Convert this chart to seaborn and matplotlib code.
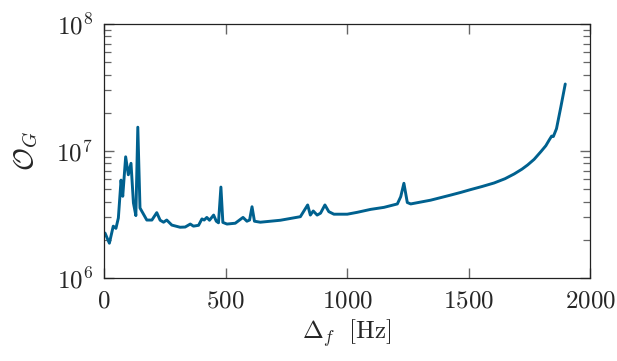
import math
import pandas as pd
import matplotlib
matplotlib.use("Agg")
import matplotlib.pyplot as plt
import matplotlib.ticker as mticker
import seaborn as sns

# values (frequency offset vs objective)
freq_hz = [4, 22, 38, 49, 59, 70, 77, 89, 100, 111, 121, 131, 139, 148, 176, 197,
           217, 231, 245, 258, 279, 313, 334, 355, 368, 389, 403, 412, 423, 434,
           451, 462, 471, 481, 489, 506, 540, 572, 588, 599, 609, 619, 643, 685,
           726, 808, 838, 849, 861, 877, 891, 909, 925, 946, 1001, 1042, 1097,
           1152, 1207, 1221, 1234, 1248, 1262, 1344, 1427, 1468, 1509, 1555, 1605,
           1650, 1688, 1720, 1743, 1770, 1798, 1818, 1833, 1842, 1849, 1862,
           1880, 1898]
objective = [2.26e6, 1.88e6, 2.56e6, 2.46e6, 2.97e6, 5.9e6, 4.4e6, 9.0e6, 6.5e6,
             8.0e6, 3.9e6, 3.1e6, 1.54e7, 3.56e6, 2.86e6, 2.86e6, 3.27e6, 2.85e6,
             2.75e6, 2.86e6, 2.61e6, 2.51e6, 2.52e6, 2.66e6, 2.56e6, 2.6e6, 2.92e6,
             2.86e6, 3.0e6, 2.85e6, 3.13e6, 2.8e6, 2.72e6, 5.2e6, 2.74e6, 2.66e6,
             2.7e6, 3.0e6, 2.8e6, 2.86e6, 3.64e6, 2.8e6, 2.75e6, 2.8e6, 2.85e6,
             3.04e6, 3.76e6, 3.13e6, 3.37e6, 3.13e6, 3.24e6, 3.76e6, 3.33e6,
             3.18e6, 3.18e6, 3.29e6, 3.47e6, 3.6e6, 3.83e6, 4.37e6, 5.57e6,
             3.93e6, 3.83e6, 4.1e6, 4.5e6, 4.72e6, 4.97e6, 5.25e6, 5.6e6,
             6.05e6, 6.6e6, 7.2e6, 7.76e6, 8.6e6, 9.9e6, 1.1e7, 1.23e7, 1.31e7,
             1.3e7, 1.5e7, 2.23e7, 3.37e7]

df = pd.DataFrame({"freq": freq_hz, "obj": objective})

sns.set_style("ticks")
plt.rcParams["font.family"] = ["serif"]
plt.rcParams["mathtext.fontset"] = "cm"

fig = plt.figure(figsize=(6.17, 3.61), dpi=100)
ax = fig.add_axes([0.1686, 0.2299, 0.7877, 0.7036])

sns.lineplot(data=df, x="freq", y="obj", ax=ax, color="#00618f", linewidth=2.1)

ax.set_yscale("log")
ax.set_xlim(0, 2000)
ax.set_ylim(1e6, 1e8)
ax.set_xticks([0, 500, 1000, 1500, 2000])
ax.xaxis.set_major_formatter(mticker.FuncFormatter(lambda v, p: f"${int(v)}$"))
ax.yaxis.set_major_locator(mticker.FixedLocator([1e6, 1e7, 1e8]))
ax.yaxis.set_major_formatter(
    mticker.FuncFormatter(lambda v, p: f"$10^{{{int(round(math.log10(v)))}}}$"))
minor_pos = [k * 10.0 ** e for e in (6, 7) for k in range(2, 10)]
ax.yaxis.set_minor_locator(mticker.FixedLocator(minor_pos))
ax.yaxis.set_minor_formatter(mticker.NullFormatter())
ax.xaxis.set_minor_locator(mticker.NullLocator())

ax.tick_params(axis="both", which="major", direction="in", length=7, width=1.0,
               color="#666666", labelsize=18, pad=8, top=True, right=True)
ax.tick_params(axis="y", which="minor", direction="in", length=5, width=0.9,
               color="#666666", left=True, right=True)
for s in ax.spines.values():
    s.set_linewidth(0.9)
    s.set_color("#222222")

ax.set_xlabel(r"$\Delta_f\ \ \mathrm{[Hz]}$", fontsize=18, labelpad=4)
ax.set_ylabel(r"$\mathcal{O}_G$", fontsize=20, labelpad=12)

fig.savefig("out.png", dpi=100)
